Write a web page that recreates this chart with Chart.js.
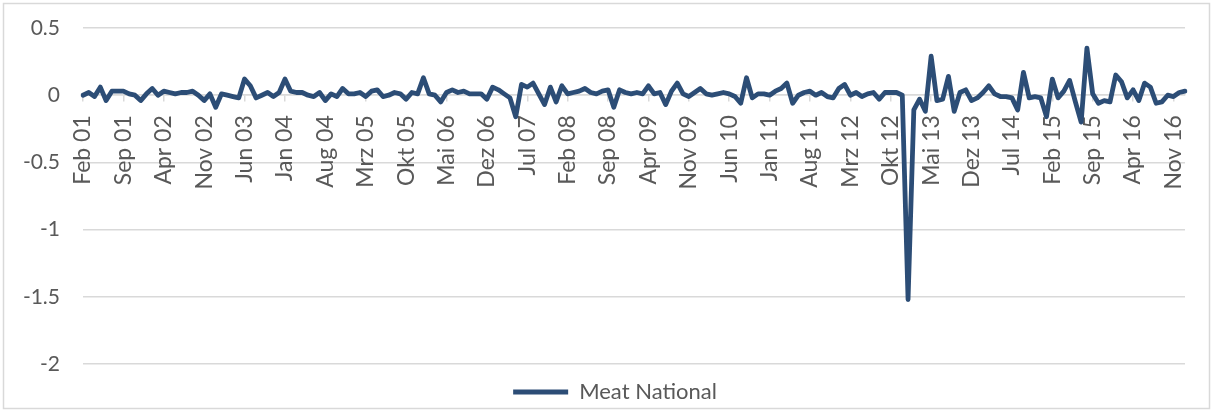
<!DOCTYPE html>
<html>
<head>
<meta charset="utf-8">
<script src="https://cdn.jsdelivr.net/npm/chart.js@4/dist/chart.umd.min.js"></script>
<style>
  html, body { margin: 0; padding: 0; background: #ffffff; }
  #wrap { width: 1213px; height: 412px; position: relative; }
</style>
</head>
<body>
<div id="wrap"><canvas id="c" width="1213" height="412"></canvas></div>
<script>
// ---- Data (monthly, Feb 2001 – Jan 2017) ----
const monthNames = ['Jan','Feb','Mrz','Apr','Mai','Jun','Jul','Aug','Sep','Okt','Nov','Dez'];
const startMonth = 1;   // Feb
const startYear = 1;    // 2001
const monthCount = 192;
const categories = [];
for (let i = 0; i < monthCount; i++) {
  const m = (startMonth + i) % 12;
  const y = startYear + Math.floor((startMonth + i) / 12);
  categories.push(monthNames[m] + ' ' + String(y).padStart(2, '0'));
}
const labelEvery = 7;

const meatNational = [
  0.00, 0.02, -0.01, 0.06, -0.04, 0.03, 0.03, 0.03, 0.01, 0.00,
  -0.04, 0.01, 0.05, 0.00, 0.03, 0.02, 0.01, 0.02, 0.02, 0.03,
  0.00, -0.04, 0.01, -0.09, 0.01, 0.00, -0.01, -0.02, 0.12, 0.07,
  -0.02, 0.00, 0.02, -0.01, 0.02, 0.12, 0.03, 0.02, 0.02, 0.00,
  -0.01, 0.02, -0.04, 0.01, -0.01, 0.05, 0.01, 0.01, 0.02, -0.01,
  0.03, 0.04, -0.01, 0.00, 0.02, 0.01, -0.03, 0.02, 0.01, 0.13,
  0.01, 0.00, -0.05, 0.02, 0.04, 0.02, 0.03, 0.01, 0.01, 0.01,
  -0.03, 0.06, 0.04, 0.01, -0.02, -0.16, 0.08, 0.06, 0.09, 0.01,
  -0.07, 0.06, -0.05, 0.07, 0.01, 0.02, 0.03, 0.05, 0.02, 0.01,
  0.03, 0.04, -0.09, 0.04, 0.02, 0.01, 0.02, 0.01, 0.07, 0.01,
  0.02, -0.07, 0.03, 0.09, 0.01, -0.01, 0.02, 0.05, 0.01, 0.00,
  0.01, 0.02, 0.01, -0.01, -0.06, 0.13, -0.02, 0.01, 0.01, 0.00,
  0.03, 0.05, 0.09, -0.06, 0.00, 0.02, 0.03, 0.00, 0.02, -0.01,
  -0.02, 0.05, 0.08, 0.00, 0.02, -0.01, 0.01, 0.02, -0.03, 0.02,
  0.02, 0.02, 0.00, -1.52, -0.11, -0.03, -0.12, 0.29, -0.04, -0.03,
  0.14, -0.12, 0.02, 0.04, -0.04, -0.02, 0.02, 0.07, 0.01, -0.01,
  -0.01, -0.02, -0.11, 0.17, -0.02, -0.01, -0.02, -0.16, 0.12, -0.02,
  0.03, 0.11, -0.05, -0.20, 0.35, 0.01, -0.06, -0.04, -0.05, 0.15,
  0.10, -0.02, 0.04, -0.04, 0.09, 0.06, -0.06, -0.05, 0.00, -0.01,
  0.02, 0.03
];

const yMin = -2, yMax = 0.5, yStep = 0.5;
const seriesName = 'Meat National';
const lineColor = '#2c4d76';
const gridColor = '#d9d9d9';
const textColor = '#595959';
const fontFamily = 'Lato, "Open Sans", "DejaVu Sans", sans-serif';

const borderPlugin = {
  id: 'outerBorder',
  afterLayout(chart) {
    // centre the legend under the plot like the reference
    if (chart.legend) { chart.legend.left += 45; }
  },
  afterDraw(chart) {
    const ctx = chart.ctx;
    ctx.save();
    ctx.strokeStyle = gridColor;
    ctx.lineWidth = 1.5;
    ctx.strokeRect(3.5, 3.5, chart.width - 7, chart.height - 7);
    ctx.restore();
  }
};

new Chart(document.getElementById('c'), {
  type: 'line',
  data: {
    labels: categories,
    datasets: [{
      label: seriesName,
      data: meatNational,
      borderColor: lineColor,
      backgroundColor: lineColor,
      borderWidth: 4.8,
      pointRadius: 0,
      pointHoverRadius: 0,
      tension: 0,
      borderJoinStyle: 'round',
      borderCapStyle: 'round',
      fill: false
    }]
  },
  options: {
    responsive: false,
    devicePixelRatio: 1,
    animation: false,
    layout: { padding: { top: 28, right: 28, left: 0, bottom: -1 } },
    plugins: {
      tooltip: { enabled: false },
      legend: {
        position: 'bottom',
        labels: {
          font: { family: fontFamily, size: 22 },
          color: textColor,
          boxWidth: 55,
          boxHeight: 5,
          padding: 17,
          generateLabels(chart) {
            return chart.data.datasets.map((ds, i) => ({
              text: ds.label,
              fillStyle: ds.borderColor,
              strokeStyle: ds.borderColor,
              lineWidth: 0,
              hidden: false,
              datasetIndex: i,
              fontColor: textColor
            }));
          }
        }
      }
    },
    scales: {
      x: {
        type: 'category',
        position: { y: 0 },
        offset: false,
        afterFit(scale) { scale.paddingLeft = 0; scale.paddingRight = 0; },
        grid: {
          display: true,
          drawOnChartArea: false,
          drawTicks: true,
          tickLength: 6,
          lineWidth: 1.5,
          color: (ctx) => (ctx.index % labelEvery === 0 ? gridColor : 'rgba(0,0,0,0)')
        },
        border: { display: true, color: gridColor, width: 1.5 },
        ticks: {
          autoSkip: false,
          minRotation: 90,
          maxRotation: 90,
          padding: 14,
          color: textColor,
          font: { family: fontFamily, size: 23 },
          callback: function (value, index) {
            return index % labelEvery === 0 ? this.getLabelForValue(value) : '';
          }
        }
      },
      y: {
        min: yMin,
        max: yMax,
        afterFit(scale) { scale.width = 83; scale.paddingTop = 0; scale.paddingBottom = 0; },
        grid: {
          color: gridColor,
          lineWidth: 1.5,
          drawTicks: false
        },
        border: { display: false },
        ticks: {
          stepSize: yStep,
          padding: 23,
          color: textColor,
          font: { family: fontFamily, size: 21 },
          callback: (value) => String(Math.round(value * 10) / 10)
        }
      }
    }
  },
  plugins: [borderPlugin]
});
</script>
</body>
</html>
